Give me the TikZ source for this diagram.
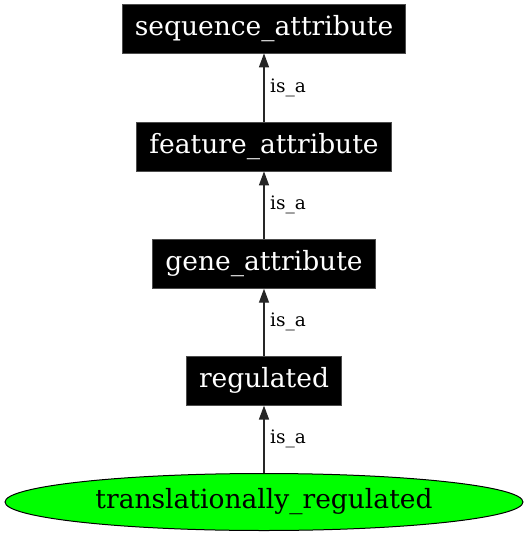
\documentclass[tikz,border=0pt]{standalone}
\usepackage{fontspec}
\setmainfont{DejaVu Serif}
\usetikzlibrary{arrows.meta,shapes.geometric}
\tikzset{
  termbox/.style={rectangle, fill=black, draw=black!70, line width=0.8pt, text=white,
    inner xsep=12.5pt, inner ysep=0pt, minimum height=49pt,
    font=\fontsize{26.5}{30}\selectfont},
  leafnode/.style={ellipse, fill=green, draw=black, line width=1pt,
    minimum width=518pt, minimum height=57pt, inner sep=0pt,
    font=\fontsize{26.5}{30}\selectfont},
  isaedge/.style={draw=black!85, line width=1.4pt,
    -{Triangle[length=14pt,width=10pt]}},
  isalabel/.style={anchor=west, font=\fontsize{18.5}{22}\selectfont, inner sep=0pt}
}
\begin{document}
\begin{tikzpicture}[x=1pt,y=1pt]
\useasboundingbox (0,0) rectangle (528,-536);
\node[termbox] (seq) at (264,-28.5) {sequence\_attribute};
\node[termbox] (feat) at (264,-146.5) {feature\_attribute};
\node[termbox] (gene) at (264,-263.8) {gene\_attribute};
\node[termbox] (reg) at (264,-380.7) {regulated};
\node[leafnode] (tr) at (264,-502) {translationally\_regulated};
\draw[isaedge] (feat) -- node[isalabel, xshift=5.5pt] (l1) {is\_a} (seq);
\draw[isaedge] (gene) -- node[isalabel, xshift=5.5pt] (l2) {is\_a} (feat);
\draw[isaedge] (reg) -- node[isalabel, xshift=5.5pt] (l3) {is\_a} (gene);
\draw[isaedge] (tr) -- node[isalabel, xshift=5.5pt] (l4) {is\_a} (reg);
\end{tikzpicture}
\end{document}
